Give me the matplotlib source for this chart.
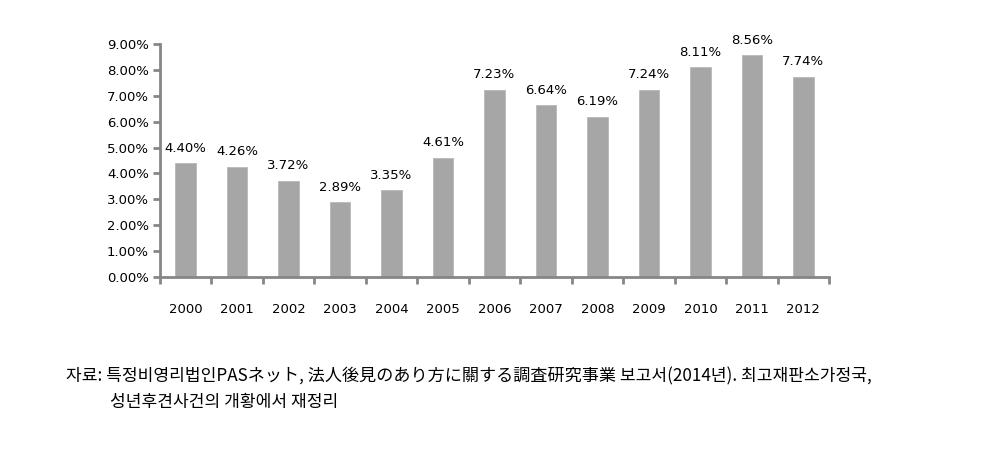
import numpy as np
import matplotlib.pyplot as plt
from matplotlib.ticker import FixedLocator, PercentFormatter

years = ['2000', '2001', '2002', '2003', '2004', '2005', '2006',
         '2007', '2008', '2009', '2010', '2011', '2012']
rates = [4.40, 4.26, 3.72, 2.89, 3.35, 4.61, 7.23,
         6.64, 6.19, 7.24, 8.11, 8.56, 7.74]
y_ticks = [0, 1, 2, 3, 4, 5, 6, 7, 8, 9]

source_line1 = '자료: 특정비영리법인PASネット, 法人後見のあり方に關する調査研究事業 보고서(2014년). 최고재판소가정국,'
source_line2 = '성년후견사건의 개황에서 재정리'

axis_gray = '#868686'
bar_gray = '#a6a6a6'

fig = plt.figure(figsize=(9.87, 4.68), dpi=100)
ax = fig.add_axes([0.162, 0.408, 0.678, 0.498])

x = np.arange(len(years))
ax.bar(x, rates, width=0.4, color=bar_gray, edgecolor='#b8b8b8', linewidth=0.6)

for xi, v in zip(x, rates):
    ax.annotate(f'{v:.2f}%', (xi, v), xytext=(0, 6), textcoords='offset points',
                ha='center', va='bottom', fontsize=9.5, color='black')

ax.set_xlim(-0.5, len(years) - 0.5)
ax.set_ylim(0, 9)
ax.set_yticks(y_ticks)
ax.yaxis.set_major_formatter(PercentFormatter(decimals=2))
ax.set_xticks(x)
ax.set_xticklabels(years)
ax.xaxis.set_minor_locator(FixedLocator(np.arange(-0.5, len(years), 1.0)))

for s in ['top', 'right']:
    ax.spines[s].set_visible(False)
for s in ['left', 'bottom']:
    ax.spines[s].set_color(axis_gray)
    ax.spines[s].set_linewidth(2)

ax.tick_params(axis='y', direction='out', length=5, width=2, color=axis_gray,
               labelsize=9.5, pad=3)
ax.tick_params(axis='x', which='major', length=0, labelsize=9.5, pad=19)
ax.tick_params(axis='x', which='minor', direction='out', length=5, width=2,
               color=axis_gray)

fig.text(66 / 987, 1 - 376 / 468, source_line1, fontsize=12.3, va='center',
         family=['Noto Sans CJK KR', 'DejaVu Sans'])
fig.text(110 / 987, 1 - 402 / 468, source_line2, fontsize=12.3, va='center',
         family=['Noto Sans CJK KR', 'DejaVu Sans'])

fig.savefig('out.png', dpi=100)
